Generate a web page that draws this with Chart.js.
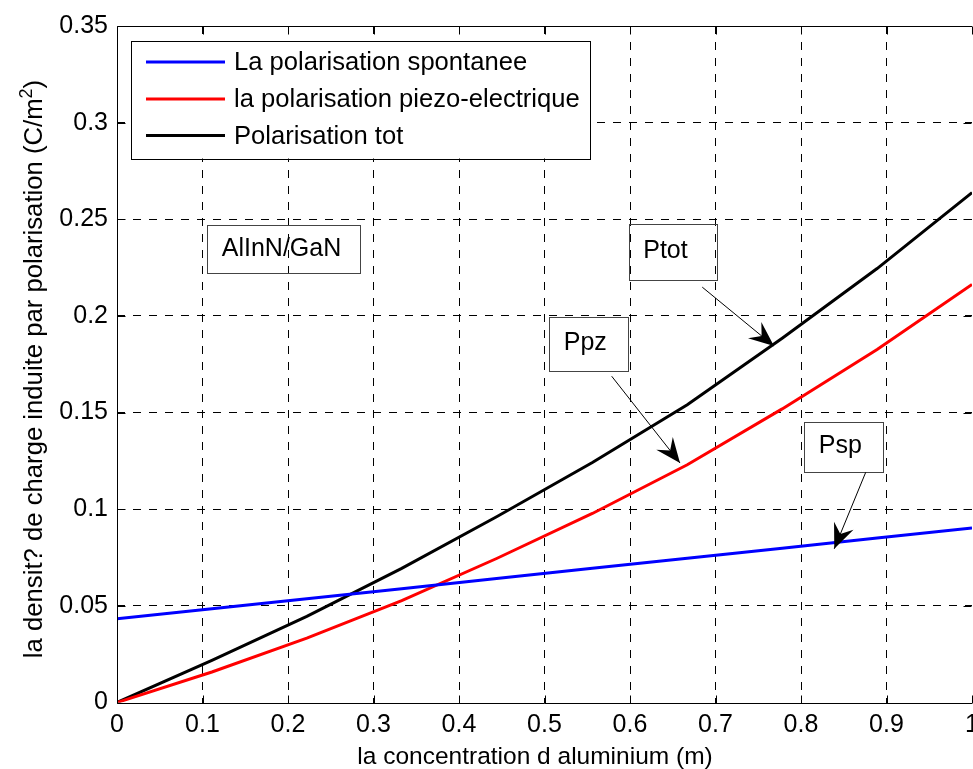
<!DOCTYPE html>
<html>
<head>
<meta charset="utf-8">
<script src="https://cdn.jsdelivr.net/npm/chart.js@4.4.0/dist/chart.umd.min.js"></script>
<style>
  html, body { margin: 0; padding: 0; background: #fff; }
</style>
</head>
<body>
<canvas id="polarChart" width="973" height="769"></canvas>
<script>
// aluminium fraction m
const concentration = [0, 0.111, 0.222, 0.333, 0.444, 0.556, 0.667, 0.778, 0.889, 1];
// charge density (C/m2)
const pSpontanee = [0.0433, 0.0485, 0.0537, 0.0589, 0.0641, 0.0694, 0.0746, 0.0798, 0.0851, 0.0903];
const pPiezo = [0, 0.0158, 0.0333, 0.0527, 0.0745, 0.0978, 0.1230, 0.1519, 0.1826, 0.2163];
const pTotale = [0, 0.0218, 0.0446, 0.0694, 0.0961, 0.1242, 0.1540, 0.1885, 0.2245, 0.2638];

const xTicks = [0, 0.1, 0.2, 0.3, 0.4, 0.5, 0.6, 0.7, 0.8, 0.9, 1];
const yTicks = [0, 0.05, 0.1, 0.15, 0.2, 0.25, 0.3, 0.35];

const seriesNames = ["La polarisation spontanee", "la polarisation piezo-electrique", "Polarisation tot"];
const seriesColors = ["#0000ff", "#ff0000", "#000000"];

const FONT = "'Liberation Sans', Arial, Helvetica, sans-serif";

// text boxes with arrows, in data units
const callouts = [
  { text: "AlInN/GaN", box: [0.1056, 0.2469, 0.2842, 0.2220] },
  { text: "Ptot", box: [0.5985, 0.2478, 0.7020, 0.2189], from: [0.6845, 0.2149], to: [0.7684, 0.1844] },
  { text: "Ppz", box: [0.5056, 0.1996, 0.5985, 0.1718], from: [0.5786, 0.1688], to: [0.6585, 0.1239] },
  { text: "Psp", box: [0.8039, 0.1453, 0.8967, 0.1196], from: [0.8757, 0.1191], to: [0.8389, 0.0795] }
];

function fmt(v) {
  return String(+v.toFixed(2));
}

function points(ys) {
  return concentration.map((x, i) => ({ x: x, y: ys[i] }));
}

function arrowHead(ctx, x0, y0, x1, y1) {
  const len = Math.hypot(x1 - x0, y1 - y0);
  const ux = (x1 - x0) / len, uy = (y1 - y0) / len;
  const px = -uy, py = ux;
  const L = 25, W = 10.5, N = 16;
  ctx.beginPath();
  ctx.moveTo(x1, y1);
  ctx.lineTo(x1 - ux * L + px * W, y1 - uy * L + py * W);
  ctx.lineTo(x1 - ux * N, y1 - uy * N);
  ctx.lineTo(x1 - ux * L - px * W, y1 - uy * L - py * W);
  ctx.closePath();
  ctx.fill();
}

// axes box, inward ticks, axis titles, legend and callouts
const decorations = {
  id: "decorations",
  afterDraw(chart) {
    const ctx = chart.ctx;
    const ca = chart.chartArea;
    const xs = chart.scales.x, ys = chart.scales.y;
    ctx.save();
    ctx.strokeStyle = "#000";
    ctx.lineWidth = 1;
    ctx.setLineDash([]);

    const L = Math.round(ca.left) + 0.5, B = Math.round(ca.bottom) + 0.5;
    const T = Math.round(ca.top) + 0.5, R = Math.round(ca.right) - 0.5;
    ctx.beginPath();
    ctx.moveTo(L, T); ctx.lineTo(L, B); ctx.lineTo(ca.right, B);
    ctx.moveTo(L, T); ctx.lineTo(ca.right, T);
    const tl = 8;
    xTicks.forEach(v => {
      const px = Math.round(xs.getPixelForValue(v)) + 0.5;
      ctx.moveTo(px, B); ctx.lineTo(px, B - tl);
      ctx.moveTo(px, T); ctx.lineTo(px, T + tl);
    });
    yTicks.forEach(v => {
      const py = Math.round(ys.getPixelForValue(v)) + 0.5;
      ctx.moveTo(L, py); ctx.lineTo(L + tl, py);
      ctx.moveTo(R, py); ctx.lineTo(R - tl, py);
    });
    ctx.stroke();

    ctx.fillStyle = "#000";

    // x axis title
    ctx.font = "24.5px " + FONT;
    ctx.textAlign = "center";
    ctx.textBaseline = "alphabetic";
    ctx.fillText("la concentration d aluminium (m)", 535, 764);

    // y axis title with superscript
    const main = "la densit? de charge induite par polarisation (C/m";
    ctx.font = "25.7px " + FONT;
    const w1 = ctx.measureText(main).width;
    const w3 = ctx.measureText(")").width;
    ctx.font = "18px " + FONT;
    const w2 = ctx.measureText("2").width;
    const total = w1 + w2 + w3;
    ctx.translate(42, 369);
    ctx.rotate(-Math.PI / 2);
    ctx.textAlign = "left";
    let x = -total / 2;
    ctx.font = "25.7px " + FONT;
    ctx.fillText(main, x, 0);
    x += w1;
    ctx.font = "18px " + FONT;
    ctx.fillText("2", x, -10);
    x += w2;
    ctx.font = "25.7px " + FONT;
    ctx.fillText(")", x, 0);
    ctx.setTransform(1, 0, 0, 1, 0, 0);

    // legend
    const lx = ca.left + 13.5, ly = ca.top + 14.5, lw = 459, lh = 118;
    ctx.fillStyle = "#fff";
    ctx.fillRect(lx, ly, lw, lh);
    ctx.strokeStyle = "#000";
    ctx.lineWidth = 1;
    ctx.strokeRect(Math.round(lx) + 0.5, Math.round(ly) + 0.5, lw, lh);
    const rows = [21.5, 58.5, 95];
    ctx.font = "25.6px " + FONT;
    ctx.textBaseline = "middle";
    seriesNames.forEach((name, i) => {
      const ry = ly + rows[i];
      ctx.strokeStyle = seriesColors[i];
      ctx.lineWidth = 3;
      ctx.beginPath();
      ctx.moveTo(lx + 15.5, ry);
      ctx.lineTo(lx + 94.5, ry);
      ctx.stroke();
      ctx.fillStyle = "#000";
      ctx.fillText(name, lx + 103.5, ry + 1);
    });

    // callouts
    callouts.forEach(c => {
      const x0 = xs.getPixelForValue(c.box[0]), y0 = ys.getPixelForValue(c.box[1]);
      const x1 = xs.getPixelForValue(c.box[2]), y1 = ys.getPixelForValue(c.box[3]);
      ctx.strokeStyle = "#444";
      ctx.lineWidth = 1;
      ctx.strokeRect(Math.round(x0) + 0.5, Math.round(y0) + 0.5, Math.round(x1 - x0), Math.round(y1 - y0));
      ctx.fillStyle = "#000";
      ctx.font = "25px " + FONT;
      ctx.textAlign = "left";
      ctx.textBaseline = "middle";
      ctx.fillText(c.text, x0 + 14.5, (y0 + y1) / 2);
      if (c.from) {
        const ax = xs.getPixelForValue(c.from[0]), ay = ys.getPixelForValue(c.from[1]);
        const bx = xs.getPixelForValue(c.to[0]), by = ys.getPixelForValue(c.to[1]);
        ctx.strokeStyle = "#000";
        ctx.beginPath();
        ctx.moveTo(ax, ay);
        ctx.lineTo(bx, by);
        ctx.stroke();
        arrowHead(ctx, ax, ay, bx, by);
      }
    });
    ctx.restore();
  }
};

const gridColor = (lo, hi) => c => (c.tick && c.tick.value > lo && c.tick.value < hi) ? "#000" : "rgba(0,0,0,0)";

const chart = new Chart(document.getElementById("polarChart"), {
  type: "line",
  data: {
    datasets: [
      { label: seriesNames[0], data: points(pSpontanee), borderColor: seriesColors[0] },
      { label: seriesNames[1], data: points(pPiezo), borderColor: seriesColors[1] },
      { label: seriesNames[2], data: points(pTotale), borderColor: seriesColors[2] }
    ]
  },
  options: {
    responsive: false,
    animation: false,
    devicePixelRatio: 1,
    layout: { padding: { top: 26, right: 1, left: 0, bottom: 0 } },
    elements: {
      line: { borderWidth: 3, tension: 0, fill: false },
      point: { radius: 0 }
    },
    plugins: {
      legend: { display: false },
      tooltip: { enabled: false }
    },
    scales: {
      x: {
        type: "linear",
        min: 0,
        max: 1,
        afterBuildTicks: s => { s.ticks = xTicks.map(v => ({ value: v })); },
        afterFit: s => { s.height = 66.5; s.paddingLeft = 0; s.paddingRight = 0; },
        grid: { color: gridColor(0, 1), lineWidth: 1, drawTicks: false },
        border: { display: false, dash: [8, 8] },
        ticks: {
          color: "#000",
          font: { family: FONT, size: 25 },
          padding: 8,
          maxRotation: 0,
          autoSkip: false,
          callback: v => fmt(v)
        }
      },
      y: {
        min: 0,
        max: 0.35,
        afterBuildTicks: s => { s.ticks = yTicks.map(v => ({ value: v })); },
        afterFit: s => { s.width = 117; s.paddingTop = 0; s.paddingBottom = 0; },
        grid: { color: gridColor(0, 0.35), lineWidth: 1, drawTicks: false },
        border: { display: false, dash: [8, 8] },
        ticks: {
          color: "#000",
          font: { family: FONT, size: 25 },
          padding: 9,
          autoSkip: false,
          callback: v => fmt(v)
        }
      }
    }
  },
  plugins: [decorations]
});
</script>
</body>
</html>
